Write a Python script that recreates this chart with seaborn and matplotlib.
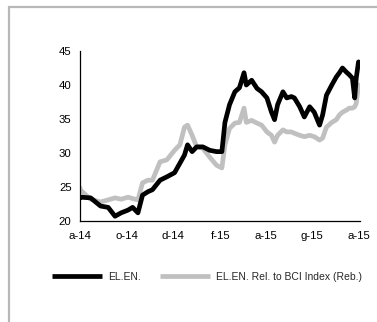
import matplotlib.dates as mdates
import matplotlib.pyplot as plt
import pandas as pd
import seaborn as sns
from matplotlib.lines import Line2D

DATES = [
    "2014-08-01", "2014-08-02", "2014-08-15", "2014-08-28", "2014-09-07", "2014-09-16",
    "2014-09-24", "2014-10-03", "2014-10-09", "2014-10-16", "2014-10-22", "2014-10-29",
    "2014-11-04", "2014-11-14", "2014-11-23", "2014-12-03", "2014-12-10", "2014-12-16",
    "2014-12-20", "2014-12-26", "2015-01-01", "2015-01-09", "2015-01-18", "2015-01-27",
    "2015-02-03", "2015-02-07", "2015-02-13", "2015-02-20", "2015-02-26", "2015-03-04",
    "2015-03-07", "2015-03-14", "2015-03-21", "2015-03-27", "2015-04-03", "2015-04-09",
    "2015-04-13", "2015-04-17", "2015-04-24", "2015-04-29", "2015-05-05", "2015-05-09",
    "2015-05-16", "2015-05-22", "2015-05-29", "2015-06-04", "2015-06-11", "2015-06-15",
    "2015-06-20", "2015-06-27", "2015-07-03", "2015-07-07", "2015-07-11", "2015-07-16",
    "2015-07-20", "2015-07-24", "2015-07-27", "2015-07-29", "2015-08-01",
]
ELEN = [
    23.4, 23.5, 23.4, 22.2, 22.0, 20.7,
    21.2, 21.6, 22.0, 21.2, 23.8, 24.3,
    24.6, 26.0, 26.5, 27.1, 28.5, 29.7,
    31.2, 30.2, 30.9, 30.9, 30.4, 30.2,
    30.2, 34.5, 37.1, 39.0, 39.6, 41.8,
    40.0, 40.7, 39.5, 39.0, 38.1, 36.0,
    34.9, 37.1, 39.0, 38.1, 38.3, 38.1,
    36.8, 35.3, 36.8, 36.0, 34.1, 35.6,
    38.5, 40.0, 41.2, 41.8, 42.5, 41.9,
    41.5, 41.0, 38.1, 41.0, 43.4,
]
ELEN_REL = [
    24.9, 24.5, 23.2, 22.8, 23.1, 23.4,
    23.2, 23.5, 23.3, 23.1, 25.6, 26.0,
    26.0, 28.7, 29.0, 30.4, 31.2, 33.8,
    34.1, 32.6, 30.9, 30.7, 29.4, 28.2,
    27.8, 31.2, 33.6, 34.4, 34.5, 36.6,
    34.5, 34.8, 34.4, 34.1, 33.1, 32.6,
    31.6, 32.6, 33.4, 33.1, 33.1, 32.9,
    32.6, 32.4, 32.6, 32.4, 31.9, 32.2,
    33.8, 34.5, 34.9, 35.6, 36.0, 36.3,
    36.6, 36.6, 36.8, 37.3, 40.0,
]
SERIES_NAMES = ["EL.EN.", "EL.EN. Rel. to BCI Index (Reb.)"]
# Italian month initials: gennaio ... dicembre
MONTH_INITIALS = ["g", "f", "m", "a", "m", "g", "l", "a", "s", "o", "n", "d"]
Y_TICKS = [20, 25, 30, 35, 40, 45]

COLORS = {SERIES_NAMES[0]: "#000000", SERIES_NAMES[1]: "#c0c0c0"}


def month_label(x, _pos):
    d = mdates.num2date(x)
    return f"{MONTH_INITIALS[d.month - 1]}-{d.strftime('%y')}"


sns.set_style("white")
plt.rcParams["font.family"] = ["Liberation Sans", "DejaVu Sans"]

df = pd.DataFrame({"date": pd.to_datetime(DATES), SERIES_NAMES[0]: ELEN, SERIES_NAMES[1]: ELEN_REL})
long = df.melt(id_vars="date", var_name="series", value_name="value")

fig = plt.figure(figsize=(3.77, 3.22), dpi=100)
ax = fig.add_axes([0.212, 0.3137, 0.743, 0.5279])

# grey line drawn first so black sits on top
for name in [SERIES_NAMES[1], SERIES_NAMES[0]]:
    sns.lineplot(
        data=long[long["series"] == name],
        x="date",
        y="value",
        color=COLORS[name],
        linewidth=3.4,
        ax=ax,
        legend=False,
    )

ax.set_xlim(pd.Timestamp("2014-08-01"), pd.Timestamp("2015-08-03"))
ax.set_ylim(20, 45)
ax.set_yticks(Y_TICKS)
ax.xaxis.set_major_locator(mdates.MonthLocator(bymonth=[2, 4, 6, 8, 10, 12]))
ax.xaxis.set_major_formatter(plt.FuncFormatter(month_label))
ax.set_xlabel("")
ax.set_ylabel("")
for side in ["top", "right"]:
    ax.spines[side].set_visible(False)
for side in ["left", "bottom"]:
    ax.spines[side].set_color("black")
    ax.spines[side].set_linewidth(0.9)
ax.tick_params(axis="both", direction="out", length=3, width=0.8, colors="black", labelsize=8.2, pad=3)
ax.tick_params(axis="x", pad=4)

handles = [Line2D([], [], color=COLORS[n], linewidth=3.4, solid_capstyle="butt") for n in SERIES_NAMES]
fig.legend(
    handles,
    SERIES_NAMES,
    loc="center",
    bbox_to_anchor=(0.549, 0.14),
    ncol=2,
    frameon=False,
    fontsize=7.5,
    handlelength=4.8,
    columnspacing=1.9,
    handletextpad=0.55,
)

# grey frame along the left and top edges
fig.add_artist(Line2D([0.024, 0.024], [0.0, 0.978], transform=fig.transFigure, color="#b8b8b8", linewidth=1.6))
fig.add_artist(Line2D([0.024, 1.0], [0.978, 0.978], transform=fig.transFigure, color="#b8b8b8", linewidth=1.6))

fig.savefig("out.png", dpi=100, facecolor="white")
